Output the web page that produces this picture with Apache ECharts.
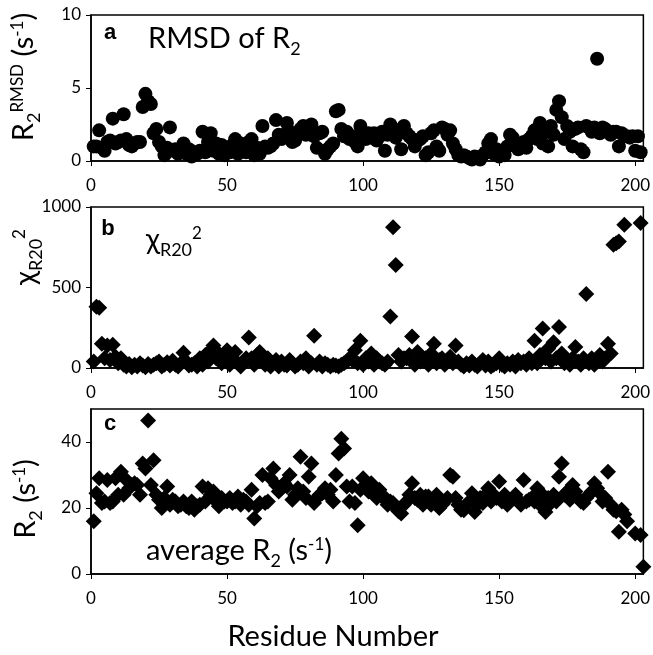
<!DOCTYPE html>
<html><head><meta charset="utf-8">
<script src="https://cdn.jsdelivr.net/npm/echarts@6/dist/echarts.min.js"></script>
<style>html,body{margin:0;padding:0;background:#fff}#c{width:653px;height:655px}</style>
</head><body><div id="c"></div>
<script>
const residues = [1,2,3,4,5,6,7,8,9,10,11,12,13,14,15,16,17,18,19,20,21,22,23,24,25,26,27,28,29,30,31,32,33,34,35,36,37,38,39,40,41,42,43,44,45,46,47,48,49,50,51,52,53,54,55,56,57,58,59,60,61,62,63,64,65,66,67,68,69,70,71,72,73,74,75,76,77,78,79,80,81,82,83,84,85,86,87,88,89,90,91,92,93,94,95,96,97,98,99,100,101,102,103,104,105,106,107,108,109,110,111,112,113,114,115,116,117,118,119,120,121,122,123,124,125,126,127,128,129,130,131,132,133,134,135,136,137,138,139,140,141,142,143,144,145,146,147,148,149,150,151,152,153,154,155,156,157,158,159,160,161,162,163,164,165,166,167,168,169,170,171,172,173,174,175,176,177,178,179,180,181,182,183,184,185,186,187,188,189,190,191,192,193,194,195,196,197,198,199,200,201,202,203];

const rmsdR2 = [1.0,1.0,2.1,0.9,0.7,1.3,1.4,2.9,1.2,1.3,
1.4,3.2,1.5,1.1,1.0,1.2,1.3,1.3,3.7,4.6,
4.1,3.9,1.9,2.2,1.3,1.0,0.4,0.9,2.3,0.7,
0.8,0.5,0.7,1.2,0.5,0.8,0.3,0.6,0.5,0.7,
2.0,0.6,1.3,1.9,0.7,1.2,0.5,1.1,0.4,0.9,
0.6,1.1,1.5,0.5,1.2,0.9,0.6,1.3,1.5,0.4,
0.9,0.5,2.4,1.0,0.9,1.0,1.2,2.8,1.8,1.5,
1.8,2.6,2.0,1.3,1.4,1.8,2.2,2.4,1.8,2.3,
2.5,1.7,0.9,1.9,2.0,0.5,0.8,1.0,1.2,3.4,
3.5,2.2,1.7,2.0,1.5,1.7,1.3,1.0,2.4,1.8,
1.5,1.9,1.6,1.9,1.4,1.7,2.0,0.7,1.8,2.5,
2.2,1.6,2.1,0.8,2.4,1.9,1.7,1.5,1.0,1.4,
1.5,1.7,0.4,0.6,1.9,2.1,1.0,0.7,2.3,2.2,
1.8,2.1,1.2,0.8,0.4,0.3,0.4,0.3,0.2,0.1,
0.3,0.2,0.1,0.4,0.6,1.2,1.5,0.5,0.8,0.3,
0.5,0.4,1.0,1.8,1.6,1.2,0.8,1.0,1.3,0.9,
1.5,1.7,2.1,1.5,2.6,1.2,2.0,1.0,2.4,1.8,
3.5,4.1,3.0,1.5,2.4,2.0,1.0,2.2,2.3,0.8,
0.6,2.4,2.3,2.0,2.3,7.0,1.9,2.3,2.2,2.0,
1.8,2.0,2.0,1.0,1.9,1.7,1.7,1.6,1.7,0.7,
1.7,0.6,null];

const chiR20 = [40,380,375,150,60,140,50,145,70,30,
60,20,10,25,5,20,10,30,15,5,
25,10,20,30,40,10,20,35,15,45,
20,10,30,95,40,15,20,30,10,60,
20,80,40,110,140,60,90,30,70,110,
20,50,100,30,10,40,60,190,60,20,
80,100,40,20,60,10,30,50,10,40,
20,15,50,30,10,20,40,30,60,10,
30,200,20,40,10,30,20,10,20,15,
10,20,30,40,60,50,110,30,170,20,
60,40,90,20,60,40,30,20,40,320,
875,640,80,40,60,60,80,195,20,100,
40,60,60,20,90,150,30,50,60,20,
50,70,30,140,40,20,10,30,15,40,
20,10,30,50,15,40,10,20,30,60,
20,10,30,20,40,10,50,30,40,20,
60,30,170,30,80,245,60,120,40,160,
60,255,90,30,50,20,60,130,40,20,
60,460,30,60,20,40,80,40,60,150,
90,765,775,785,null,890,null,null,null,null,
null,900,null];

const avgR2 = [16,24.5,29,21.5,22,28.5,21.5,22,29,24,
31,24,28.5,26,27,27.5,27,24,33.5,32,
46.5,27,34.5,24,22.5,20,23,26.5,21,22.5,
22,20.5,21,22,20.5,20,22,19.5,20.5,21,
26.5,22,26,24,25,22,20.5,23,22,22,
23,21.5,22,23.5,21,22.5,22,21,25.5,16.8,
20.5,21.5,30,21.5,22,29,32,27,25,26,
27.5,26.5,30,22.5,24,26,35.5,25,23,29.5,
33.5,21.5,23,24,24.5,26,24,25.5,22,30,
36.5,41,38,26.5,22,26.5,21.5,14.8,25.5,29,
26.5,25,27.5,24,23,25.5,24,22.5,21,22,
21.5,20,19,18.3,21,22,24,27.5,23,22.5,
24,21,23.5,23.5,21,22.5,24,20,21,22,
23,30,29.5,23,21,19.5,19.3,21,22,24.5,
18.8,21,23,21.5,24,26,22,24,23,28,
22,24,21,22,23,24,22.5,21,28.5,22,
22.5,23,22,26,21,24,18.8,23,21.5,24,
22,29.5,33.5,24,25,22.5,27,25,23,22,
21.5,23,24,25,27.5,26,24.5,22,23,31,
21,19.5,19,12.8,19.5,18,16,null,null,12.3,
null,11.8,2.2];

const xTicks = [0, 50, 100, 150, 200];
const aTicks = [0, 5, 10];
const bTicks = [0, 500, 1000];
const cTicks = [0, 20, 40];

const FONT = 'Lato';
const pairs = vals => residues.map((r, i) => [r, vals[i]]).filter(p => p[1] !== null);

const grids = [
  {left: 91, top: 15, width: 553, height: 146},
  {left: 91, top: 207, width: 553, height: 161},
  {left: 91, top: 409, width: 553, height: 165}
].map(g => Object.assign({show: true, borderColor: '#000', borderWidth: 1.5, backgroundColor: 'transparent'}, g));

function xAx(i) {
  return {
    type: 'value', gridIndex: i, min: 0, max: 203, interval: 50,
    axisLine: {show: true, lineStyle: {color: '#000', width: 1.5}},
    axisTick: {show: true, inside: false, length: 5, lineStyle: {color: '#000', width: 1}, customValues: xTicks},
    axisLabel: {color: '#000', fontSize: 17, fontFamily: FONT, margin: 16, customValues: xTicks, formatter: v => String(v)},
    splitLine: {show: false}
  };
}
function yAx(i, max, interval, ticks) {
  return {
    type: 'value', gridIndex: i, min: 0, max: max, interval: interval,
    axisLine: {show: true, lineStyle: {color: '#000', width: 1.5}},
    axisTick: {show: true, inside: false, length: 5, lineStyle: {color: '#000', width: 1}, customValues: ticks},
    axisLabel: {color: '#000', fontSize: 17, fontFamily: FONT, margin: 10, customValues: ticks, formatter: v => String(v)},
    splitLine: {show: false}
  };
}

const rich = {
  n: {fontSize: 29, fontFamily: FONT, color: '#000', verticalAlign: 'top'},
  sub: {fontSize: 18, fontFamily: FONT, color: '#000', verticalAlign: 'top', padding: [16, 0, 0, 0]},
  sup: {fontSize: 17, fontFamily: FONT, color: '#000', verticalAlign: 'top', padding: [0, 0, 0, 0]}
};
function txt(x, y, text, rot, align, va) {
  return {type: 'text', x: x, y: y, rotation: rot || 0, z: 10,
    style: {text: text, rich: rich, align: align || 'center', verticalAlign: va || 'middle', fill: '#000'}};
}
function bold(x, y, t) {
  return {type: 'text', x: x, y: y, z: 10,
    style: {text: t, font: 'bold 22px "Liberation Sans"', fill: '#000', align: 'center', verticalAlign: 'middle'}};
}

const option = {
  animation: false,
  backgroundColor: '#fff',
  grid: grids,
  xAxis: [xAx(0), xAx(1), xAx(2)],
  yAxis: [yAx(0, 10, 5, aTicks), yAx(1, 1000, 500, bTicks), yAx(2, 50, 20, cTicks)],
  series: [
    {type: 'scatter', xAxisIndex: 0, yAxisIndex: 0, symbol: 'circle', symbolSize: 14, itemStyle: {color: '#000', opacity: 1}, data: pairs(rmsdR2)},
    {type: 'scatter', xAxisIndex: 1, yAxisIndex: 1, symbol: 'diamond', symbolSize: 16, itemStyle: {color: '#000', opacity: 1}, data: pairs(chiR20)},
    {type: 'scatter', xAxisIndex: 2, yAxisIndex: 2, symbol: 'diamond', symbolSize: 16, itemStyle: {color: '#000', opacity: 1}, data: pairs(avgR2)}
  ],
  graphic: [
    bold(110, 33, 'a'),
    bold(108, 229, 'b'),
    bold(110, 424, 'c'),
    txt(148, 24, '{n|RMSD of R}{sub|2}', 0, 'left', 'top'),
    txt(146, 225, '{n|χ}{sub|R20}{sup|2}', 0, 'left', 'top'),
    txt(146, 536, '{n|average R}{sub|2}{n| (s}{sup|-1}{n|)}', 0, 'left', 'top'),
    txt(26, 77, '{n|R}{sub|2}{sup|RMSD}{n| (s}{sup|-1}{n|)}', Math.PI / 2),
    txt(28, 257, '{n|χ}{sub|R20}{sup|2}', Math.PI / 2),
    txt(28, 499, '{n|R}{sub|2}{n| (s}{sup|-1}{n|)}', Math.PI / 2),
    {type: 'text', x: 333, y: 637, z: 10,
     style: {text: 'Residue Number', font: '29px Lato', fill: '#000', align: 'center', verticalAlign: 'middle'}}
  ]
};
echarts.init(document.getElementById('c'), null, {renderer: 'canvas'}).setOption(option);
</script>
</body></html>
